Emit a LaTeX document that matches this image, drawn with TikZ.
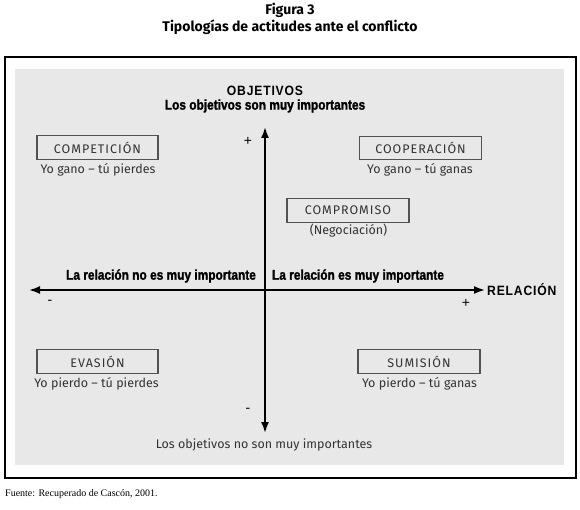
\documentclass[tikz,border=0pt]{standalone}
\usepackage{fontspec}
\setmainfont{Liberation Serif}
\newfontfamily\titlefont{Fira Sans}
\newfontfamily\boxfont{Fira Sans}[LetterSpace=8]
\newfontfamily\subfont{Fira Sans}
\newfontfamily\signfont{Liberation Sans}
\newfontfamily\heavyfont{Liberation Sans}[FakeStretch=0.85,FakeBold=1.5]
\newfontfamily\capsfont{Liberation Sans}[FakeStretch=0.9,LetterSpace=6]
\usetikzlibrary{arrows.meta}
\definecolor{panel}{HTML}{E8E8E8}
\definecolor{ink}{HTML}{333333}
\tikzset{
  x=1pt,y=-1pt,
  typebox/.style={draw=ink!85,line width=1.1pt,minimum height=23.5pt,minimum width=121pt,inner sep=0pt,
    font=\boxfont\fontsize{12.5}{13}\selectfont,text=ink},
  subtext/.style={font=\subfont\fontsize{12.5}{13}\selectfont,text=ink,inner sep=0pt},
  heavy/.style={font=\heavyfont\bfseries\fontsize{14}{15}\selectfont,text=black,inner sep=0pt},
  sign/.style={font=\signfont\fontsize{14}{15}\selectfont,text=black,inner sep=0pt},
  axis/.style={line width=1.8pt,-{Latex[length=11pt,width=8pt]}},
}
\begin{document}
\begin{tikzpicture}
\useasboundingbox (0,0) rectangle (580,510);
\fill[white] (0,0) rectangle (580,510);
% titles
\node[font=\titlefont\bfseries\fontsize{14}{15}\selectfont,inner sep=0pt] (fig) at (290,10) {Figura 3};
\node[font=\titlefont\bfseries\fontsize{14}{15}\selectfont,inner sep=0pt] (tit) at (290,27) {Tipologías de actitudes ante el conflicto};
% frame and panel
\draw[line width=1.1pt] (5,57) rectangle (576,478);
\fill[panel] (15,69) rectangle (564,465);
% axis end points
\coordinate (vtop) at (265,127);
\coordinate (vbot) at (265,433);
\coordinate (hleft) at (29,290);
\coordinate (hright) at (485,290);
\coordinate (orig) at (265,290);
\draw[axis] (orig) -- (vtop);
\draw[axis] (orig) -- (vbot);
\draw[axis] (orig) -- (hleft);
\draw[axis] (orig) -- (hright);
% axis labels
\node[font=\capsfont\bfseries\fontsize{13.5}{14}\selectfont,inner sep=0pt] (obj) at (265,91) {OBJETIVOS};
\node[heavy] (objhi) at (265,106) {Los objetivos son muy importantes};
\node[subtext] (objlo) at (264,445) {Los objetivos no son muy importantes};
\node[font=\capsfont\bfseries\fontsize{13.5}{14}\selectfont,inner sep=0pt,anchor=west] (rel) at (487,290) {RELACIÓN};
\node[heavy] (rello) at (161,276) {La relación no es muy importante};
\node[heavy] (relhi) at (358,276) {La relación es muy importante};
% signs
\node[sign] (pv) at (248,141) {+};
\node[sign] (mv) at (248,410) {-};
\node[sign] (mh) at (50,302) {-};
\node[sign] (ph) at (466,303) {+};
% boxes
\node[typebox] (comp) at (97.5,147.5) {COMPETICIÓN};
\node[subtext] (compt) at (98,170) {Yo gano – tú pierdes};
\node[typebox,minimum width=122pt] (coop) at (420.5,148) {COOPERACIÓN};
\node[subtext] (coopt) at (420,170) {Yo gano – tú ganas};
\node[typebox,minimum width=122pt] (compr) at (348,210.5) {COMPROMISO};
\node[subtext] (comprt) at (348.5,231) {(Negociación)};
\node[typebox] (eva) at (97.5,361.5) {EVASIÓN};
\node[subtext] (evat) at (96.5,384) {Yo pierdo – tú pierdes};
\node[typebox,minimum width=122pt] (sum) at (419,361.5) {SUMISIÓN};
\node[subtext] (sumt) at (419.5,384) {Yo pierdo – tú ganas};
% source
\node[font=\fontsize{10}{12}\selectfont,inner sep=0pt,anchor=west] (src) at (5,494) {Fuente: Recuperado de Cascón, 2001.};
\end{tikzpicture}
\end{document}
